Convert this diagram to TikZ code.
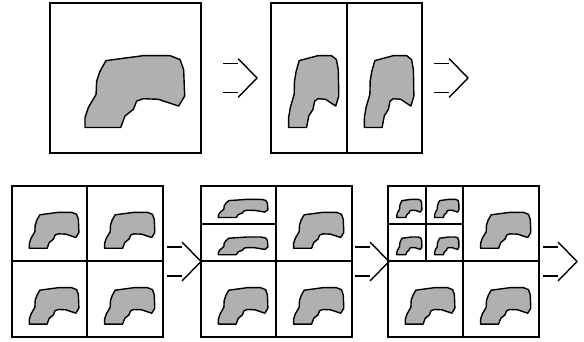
\documentclass[tikz,border=0pt]{standalone}
\definecolor{blobgray}{RGB}{176,176,176}
\tikzset{
  x=1pt, y=-1pt,
  cellbox/.style={draw, line width=1.7pt, inner sep=0pt, outer sep=0pt, anchor=north west},
  divider/.style={line width=1.7pt},
  blob/.style={fill=blobgray, draw=black, line width=1.4pt, line join=round},
  arr/.style={line width=1.4pt},
  dblarrow/.pic={
    \draw[arr] (0,-14.5) -- (15,-14.5);
    \draw[arr] (0,14.5) -- (15,14.5);
    \draw[arr, line join=miter] (15,-19.5) -- (34,0) -- (15,19.5);
  }
}
\newcommand\blobat[4]{%
  \begin{scope}[shift={(#1,#2)}, xscale=#3, yscale=#4]
    \draw[blob] (0.371,0.384) -- (0.618,0.351) -- (0.795,0.351) -- (0.861,0.377)
      -- (0.885,0.444) -- (0.892,0.620) -- (0.852,0.687) -- (0.717,0.642)
      -- (0.618,0.638) -- (0.574,0.654) -- (0.552,0.709) -- (0.497,0.753)
      -- (0.468,0.830) -- (0.232,0.830) -- (0.232,0.764) -- (0.254,0.697)
      -- (0.305,0.609) -- (0.309,0.521) -- (0.331,0.455) -- cycle;
  \end{scope}}
\begin{document}
\begin{tikzpicture}
\useasboundingbox (0,0) rectangle (584,342);
% ---------- top row ----------
\node[cellbox, minimum width=151pt, minimum height=150pt] (b1) at (50,3) {};
\blobat{50}{3}{151}{150}
\node[cellbox, minimum width=151pt, minimum height=150pt] (b2) at (271,3) {};
\draw[divider] (347,3) -- (347,153);
\blobat{271}{3}{76}{150}
\blobat{347}{3}{75}{150}
\coordinate (a1) at (223,78);
\coordinate (a2) at (434,78);
\pic at (a1) {dblarrow};
\pic at (a2) {dblarrow};
% ---------- bottom row ----------
% box A
\node[cellbox, minimum width=151pt, minimum height=151pt] (bA) at (12,186) {};
\draw[divider] (87,186) -- (87,337);
\draw[divider] (12,261) -- (163,261);
\blobat{12}{186}{75}{75}
\blobat{87}{186}{76}{75}
\blobat{12}{261}{75}{76}
\blobat{87}{261}{76}{76}
% box B
\node[cellbox, minimum width=151pt, minimum height=151pt] (bB) at (201,186) {};
\draw[divider] (276,186) -- (276,337);
\draw[divider] (201,261) -- (352,261);
\draw[divider] (201,224) -- (276,224);
\blobat{201}{186}{75}{38}
\blobat{201}{224}{75}{37}
\blobat{276}{186}{76}{75}
\blobat{201}{261}{75}{76}
\blobat{276}{261}{76}{76}
% box C
\node[cellbox, minimum width=151pt, minimum height=151pt] (bC) at (388,186) {};
\draw[divider] (463,186) -- (463,337);
\draw[divider] (388,261) -- (539,261);
\draw[divider] (388,224) -- (463,224);
\draw[divider] (426,186) -- (426,261);
\blobat{388}{186}{38}{38}
\blobat{426}{186}{37}{38}
\blobat{388}{224}{38}{37}
\blobat{426}{224}{37}{37}
\blobat{463}{186}{76}{75}
\blobat{388}{261}{75}{76}
\blobat{463}{261}{76}{76}
\coordinate (aA) at (167,261.5);
\coordinate (aB) at (355,261.5);
\coordinate (aC) at (543,261.5);
\pic at (aA) {dblarrow};
\pic at (aB) {dblarrow};
\pic at (aC) {dblarrow};
\end{tikzpicture}
\end{document}
